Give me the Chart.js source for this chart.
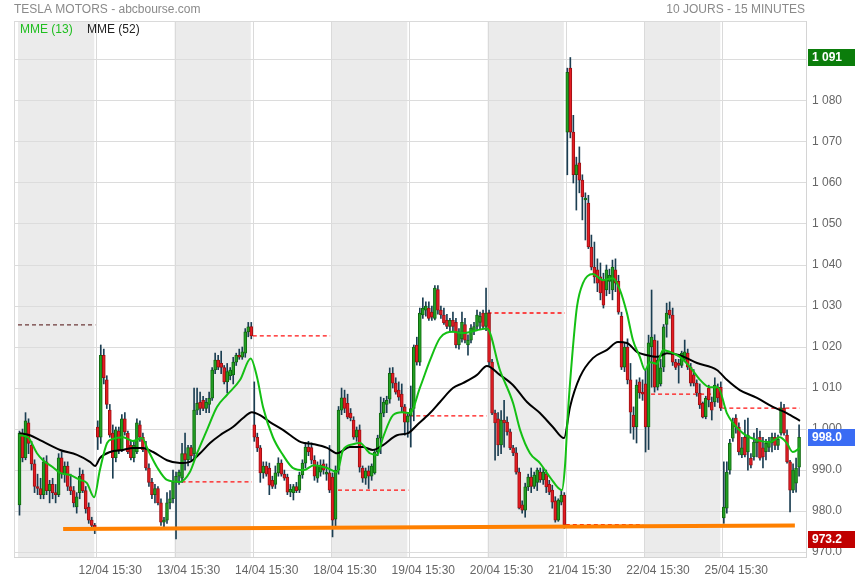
<!DOCTYPE html>
<html>
<head>
<meta charset="utf-8">
<title>TESLA MOTORS - 10 jours</title>
<script src="https://cdn.jsdelivr.net/npm/chart.js@4.4.0/dist/chart.umd.min.js"></script>
<style>
  html, body { margin: 0; padding: 0; background: #fff; }
  #wrap { width: 855px; height: 580px; }
</style>
</head>
<body>
<div id="wrap"><canvas id="chart" width="855" height="580"></canvas></div>
<script>
// Session labels (first session 11/04 has no label)
const dayLabels = ['12/04 15:30', '13/04 15:30', '14/04 15:30', '18/04 15:30', '19/04 15:30',
                   '20/04 15:30', '21/04 15:30', '22/04 15:30', '25/04 15:30'];
const perDay = 26;

// 15 minute candles, [open, high, low, close], one line per session
const ohlc = [
  [981.5,999.5,979,999],[999,1000,992,993],[993,1004,992.5,1002],[1001.5,1002.5,994,996.5],[996,997,990,991.5],[991.5,992.5,984.5,986],[986,989,984,985.5],[985.5,988,983,984],[984,993,983,992],[992,993.5,984,985],[985,987.5,982,986.5],[986.5,988,983,984.5],[984.5,986.5,982,984],[984,994,983.5,993],[993,994.5,988,989],[989,992,987,991],[991,992,985,986],[986,989,984,985],[985,986,981,982],[981,984.5,979.5,983.5],[984.5,990.5,983,988.5],[989,990,984.5,985],[985,986,979.5,980.5],[981,982,977,977.8],[977.8,978.5,975.5,976.5],[976.5,977,974.5,975.8],
  [1000.5,1002,995,998],[998,1020.5,996.5,1018],[1018,1019.5,1011,1012.5],[1012,1013,1005,1006],[1004.6,1006,998,998.5],[999,1001,988,993],[993,1000.5,992,999.8],[999.5,1000.5,994,995],[995,1003.5,994.5,1002.5],[1002.5,1004,998.5,999.3],[999,999.5,994,994.5],[996,997,992.5,993],[993,997,992,996],[994.5,1002.5,994,1001.5],[1001,1002,997,998],[998,999,994.5,995],[995,997,990,990.5],[990.5,991.5,986,987],[987,988,983,984],[984,986.5,982,985.5],[985.5,986,981.5,982],[982,983,976.5,977.3],[977.3,978.5,975.5,977.8],[977.8,984.5,977,982],[982,985,980.5,983],[983,990,982,987.1],
  [987.1,989.5,973.2,988.5],[988.5,990,986.5,989.5],[988,996.5,987,994],[994,999,990,992.5],[992.5,996,991,995.5],[995.5,996,992.5,993.5],[994,1010,993,1004.6],[1004.6,1010,1003.5,1006.3],[1006.5,1009,1003.5,1005],[1007,1008,1004.5,1005],[1005,1007.5,1004,1006.5],[1006,1009,1004,1007.5],[1007.5,1015,1007,1014.4],[1014.4,1018.5,1013.5,1016.8],[1016.8,1018,1014.5,1015.1],[1016,1019,1013.5,1015],[1015,1015.5,1011,1011.5],[1011.5,1016,1008.8,1014],[1013,1015,1012,1014.4],[1013.2,1017.5,1011,1016.3],[1016.3,1018.5,1015.5,1018],[1018,1019.5,1017,1017.5],[1017.5,1020,1017,1018.8],[1018.5,1024.5,1017.5,1023.7],[1023.7,1026,1022.5,1024.9],[1025,1026,1022,1022.7],
  [1001,1011.5,997,998],[998,999,994.5,995.4],[995.4,996,987,989.3],[989.3,992,988,991],[991,992,988.5,989],[990.5,991.7,984,986.3],[987.5,988.5,985.5,986],[986.5,991,985.5,989.3],[989.3,993,988.5,991.7],[991.7,992.5,988.5,989],[989,990,987.5,988],[988.3,989,984,984.6],[984.6,986.5,983.5,985.3],[984.5,986.5,982.7,986],[986,987,984.5,985],[985.1,989.5,984.5,988.8],[988.8,992.5,988,991.7],[991.7,996.6,990.5,995.6],[995.6,997,993.5,994.4],[995.5,996.6,991.5,992.4],[992.4,993.5,987.5,988.5],[988,992,987,991],[989.5,992.5,988.5,991.2],[991.5,992.5,989,990],[989,991.5,987.5,989.5],[989.3,996,984.5,985.1],
  [988.3,989.3,973.7,977.8],[978,991,976,990],[990,1005.5,989,1004.6],[1004.6,1010,1003.5,1007.6],[1007.6,1009.5,1004,1005],[1006.3,1008.5,1002.5,1002.9],[1003.9,1005,1002,1002.7],[1002.2,1003,997.5,998],[998,1000.5,997,999.8],[999.8,1001,989.5,990.7],[990.5,991,987,988],[988,990.5,986.5,989.8],[989.8,991,985.5,988.5],[988.5,991.5,987.5,991],[989.3,995,989,994.4],[994.4,998.5,993.5,997.8],[997.8,1007.8,994,1003.9],[1003.9,1007.5,1003,1006.6],[1006,1008,1004,1007],[1007.3,1014.9,1006.3,1013.6],[1013.6,1015,1010,1011.2],[1011.2,1012.5,1008.5,1009],[1009.5,1011.5,1007,1007.8],[1008.5,1011,1004,1005.4],[1005.4,1006,998.5,1001.7],[1001.7,1004,998,1003.2],
  [1003.2,1010.5,995.6,1005],[1005,1020.5,1002,1020],[1020.5,1022.4,1015.6,1016.3],[1016.3,1029.5,1015.5,1028.3],[1027.8,1032,1027,1029.5],[1029,1031,1027.5,1030],[1029.5,1031,1026.5,1027],[1028.5,1030,1026.5,1027.3],[1027,1035,1026.6,1034.4],[1034,1035,1028,1029],[1029,1030,1027,1027.8],[1027.8,1029.5,1025.5,1025.9],[1026.5,1028,1024.5,1025],[1025,1027,1024,1026.5],[1026.5,1028.5,1023.7,1025],[1026,1027,1019.8,1020.5],[1020.5,1024.5,1019.5,1023.7],[1022,1028.5,1021.2,1026],[1025.5,1027,1021,1021.7],[1020.5,1023,1018,1021.7],[1021.7,1025.5,1021,1024.6],[1024,1026,1023,1025],[1025,1029,1024,1027.8],[1026,1028.5,1024.5,1027.5],[1028.3,1029,1024.5,1025],[1025,1034.4,1024,1028.3],
  [1028.3,1029,1015.5,1016.3],[1016.3,1017,1003.5,1003.9],[1003.9,1004.6,992.4,1001.5],[1002.5,1004,993.5,996.1],[996.1,1004.5,994,1002.2],[1002.2,1007,995.6,1001.5],[1001.7,1003,998.5,999.3],[999.3,1000,995,995.4],[995.4,996,993.5,994.2],[994.2,995.5,989,989.5],[989.5,990.5,980.5,980.7],[981.5,982.5,979.5,980.2],[980.2,986.8,978.5,985.9],[985.9,989,985,988.3],[988.3,990.5,984.5,986],[986,989.5,985.5,988.8],[987,990.5,985,990],[989.5,990.5,987,987.6],[987.6,990.5,986.5,989.5],[989,990,984.5,985.9],[986.5,987.5,984,984.6],[985.1,986.3,980.7,982.2],[982.5,983.5,977.3,977.8],[977.8,983,977.5,982.7],[982.2,985,981.5,983.9],[983.9,984.5,975.8,976.7],
  [1072.4,1088,1062,1087],[1088,1090.6,1071,1072.4],[1072.4,1076.5,1060,1062],[1062,1066.3,1053.4,1064.4],[1064.9,1068.8,1057.6,1060.7],[1060.7,1062,1051,1056.6],[1055.9,1057.6,1046.1,1056.3],[1055.1,1057,1044,1044.4],[1044.4,1047.3,1038.8,1039.5],[1039.5,1045.6,1035.6,1037.1],[1038.8,1041.5,1033.5,1035.6],[1037.1,1040.5,1031.5,1033.2],[1036.3,1038,1029.5,1030.2],[1033.9,1040,1032.5,1038.8],[1036,1039,1033,1037.5],[1033.9,1041.2,1031.5,1039.5],[1038.8,1041.5,1033.5,1035.6],[1036,1037.5,1028,1028.5],[1027.5,1028.5,1014.5,1015.1],[1015.1,1021,1014,1020],[1020,1022,1011,1012],[1012,1016,999,1004.1],[1003.4,1005.4,997.5,1000.5],[1000.5,1012,996.6,1010.7],[1011.5,1012.5,1007.5,1008.8],[1009,1012,1007,1008.5],
  [1011,1014.4,994.4,1000.5],[1000.5,1022.9,995,1021],[1020,1033.9,1010.2,1022.4],[1021.7,1023,1009,1010.2],[1010.2,1021.5,1009.5,1016.8],[1011,1017,1010.5,1014.9],[1015.1,1025.5,1014,1024.9],[1025.5,1030.7,1022.4,1028.3],[1029,1031,1027,1027.8],[1027.8,1029.5,1015.5,1016.3],[1016.3,1017,1014.5,1015],[1016,1017,1011.2,1015.5],[1015.5,1019,1015,1018.5],[1017,1021.7,1016.5,1018.8],[1018.5,1019.5,1014.5,1015.1],[1015.1,1016,1010.5,1011.2],[1013.2,1014.5,1010.5,1011.2],[1011.2,1012,1008,1008.8],[1008.8,1011,1005,1005.9],[1006.3,1006.6,1002.7,1002.9],[1003,1008,1002.5,1007.5],[1010,1010.7,1005.4,1007.1],[1006.6,1007.8,1002.2,1004.6],[1006.6,1012.5,1005.5,1010.7],[1010,1011,1006.5,1007.6],[1010.2,1011.5,1004.5,1005.1],
  [978.3,992,977,981],[980.7,992,979.5,989.5],[990,997.5,989,996.6],[997.8,1002.7,997,1001.7],[1002.7,1003.5,999,1000.5],[1000.5,1001.5,993.7,994.4],[993.7,998,993,995.4],[998,1002.2,993.2,993.7],[994.4,1002.7,990,998.5],[992.9,994,990.5,991.2],[993.2,999,992.4,996.8],[996.6,1000.2,993.2,997.3],[998,999.5,992.4,992.9],[995.4,998,990.5,993.2],[994.5,997.5,992.5,996.5],[995.5,998,994.5,997],[996.6,999,994.4,998],[998,999,995,996],[996,998.5,995,997.5],[999,1006.6,998.5,1005.1],[1005.1,1006,998.5,999],[998.5,999.8,991.7,992],[992,992.4,979.8,985.1],[985.1,991.5,984.5,990],[986.8,992.9,984.6,990.5],[990.7,1001,988.5,998]
];

// previous session close, drawn as a dashed level over each session
const prevClose = [1025.4, 975.8, 987.1, 1022.7, 985.1, 1003.2, 1028.3, 976.7, 1008.5, 1005.1];

// moving averages (candle index, value)
const mme13Idx = [0, 2.8, 5.8, 7.8, 11.1, 13.5, 16.8, 20.1, 22.4, 24.8, 26.7, 29.1, 31.1, 34.4, 37.7, 40.7, 42.7, 45.7, 49.0, 53.3,
  56.6, 59.0, 62.3, 65.6, 68.9, 73.3, 76.8, 78.9, 80.9, 84.2, 87.5, 90.9, 94.5, 97.8, 102.2, 105.5, 107.5, 110.8, 113.1, 116.4,
  118.8, 120.8, 124.1, 127.1, 129.7, 133.1, 136.4, 139.7, 144.0, 147.3, 152.0, 155.3, 159.6, 164.0, 166.3, 169.6, 172.9, 176.2, 180.2, 181.2,
  182.2, 183.6, 185.2, 187.2, 190.5, 193.8, 197.2, 199.5, 201.8, 203.8, 206.1, 207.8, 209.5, 211.8, 213.8, 216.1, 219.4, 222.8, 226.1, 229.4,
  232.0, 235.0, 237.0, 240.3, 245.0, 249.3, 252.6, 254.9, 256.9, 259.3];
const mme13Val = [998.5, 998, 994.1, 992.4, 990.7, 989.3, 988.8, 987.6, 986.8, 983.4, 990, 996.6, 997.6, 998, 997.1, 997.8, 994.9, 990.7, 987.6, 987.1,
  989.5, 994.1, 999.8, 1005.4, 1008.3, 1012, 1017.2, 1012.7, 1005.4, 998, 993.7, 990.5, 990, 991.2, 990.5, 989.5, 994.9, 996.3, 996.6, 994.1,
  993.7, 998, 1003.4, 1004.1, 1003.9, 1010.2, 1016.8, 1022.2, 1023.7, 1023.4, 1024.1, 1024.5, 1014.4, 1006.3, 999.8, 994.1, 991.7, 988.3, 985.1, 990.7,
  1003.9, 1017.6, 1029.8, 1035.6, 1037.8, 1036.3, 1036.8, 1033.9, 1028.3, 1021.7, 1017.6, 1014.4, 1016.3, 1015.9, 1019.3, 1018.8, 1017.6, 1015.1, 1012, 1010.2,
  1010.2, 1003.9, 1001.5, 999, 997.3, 996.8, 998, 996.6, 994.4, 995.4];

const mme52Idx = [0, 3.5, 6.8, 13.5, 19.1, 23.4, 25.1, 26.7, 30.1, 34.4, 37.7, 41.0, 44.4, 49.0, 53.3, 56.6, 60.0, 63.3, 66.6, 70.9,
  74.3, 77.2, 79.9, 83.2, 87.5, 93.5, 97.8, 102.2, 105.5, 109.8, 114.1, 117.4, 120.8, 125.4, 129.1, 132.1, 136.4, 139.7, 144.0, 147.3,
  152.0, 155.3, 159.6, 164.0, 168.6, 172.9, 177.2, 180.9, 182.9, 186.2, 190.5, 195.2, 198.8, 201.8, 205.1, 208.5, 211.8, 215.1, 219.4, 225.1,
  231.7, 235.0, 239.3, 245.0, 250.3, 254.9, 259.3];
const mme52Val = [999.0, 998.5, 997.3, 994.9, 993.7, 992.0, 991.0, 992.9, 994.4, 994.9, 995.4, 995.4, 994.4, 992.4, 991.7, 992.0, 994.1, 996.6, 998.5, 1000.5,
  1002.7, 1004.1, 1003.4, 1001.7, 999.8, 996.8, 996.3, 995.4, 994.1, 995.6, 995.6, 994.9, 996.1, 998.5, 999.0, 1001.0, 1003.9, 1006.6, 1010.0, 1011.2,
  1013.2, 1015.4, 1013.2, 1010.7, 1006.6, 1003.9, 1000.5, 997.8, 1005.4, 1012.7, 1017.3, 1019.3, 1021.2, 1021.0, 1018.8, 1018.0, 1017.6, 1018.5, 1018.0, 1016.1,
  1014.4, 1012.0, 1009.5, 1007.6, 1005.4, 1003.9, 1002.0];

// support line drawn on the chart
const supportIdx = [14.5, 257.6];
const supportVal = [975.6, 976.5];

const yTicks = [970, 980, 990, 1000, 1010, 1020, 1030, 1040, 1050, 1060, 1070, 1080, 1090];

const FONT = '"Liberation Sans", Arial, sans-serif';
const UP = '#23a023', UP_EDGE = '#0f6a0f';
const DOWN = '#e41c22', DOWN_EDGE = '#9e1014';
const WICK = '#1b3e52';

function fmt(v) {
  if (v < 1000) return v.toFixed(1);
  const s = String(Math.round(v));
  return s.slice(0, -3) + ' ' + s.slice(-3);
}

const isUp = i => ohlc[i][3] >= ohlc[i][0];

const dashPoints = [];
prevClose.forEach((v, d) => {
  dashPoints.push({x: d * perDay - 0.5, y: v}, {x: d * perDay + 25.2, y: v}, {x: d * perDay + 25.3, y: null});
});

const backdrop = {
  id: 'backdrop',
  beforeDraw(chart) {
    const {ctx, chartArea: a, scales: {x}} = chart;
    ctx.save();
    ctx.fillStyle = '#fff';
    ctx.fillRect(0, 0, chart.width, chart.height);
    // shaded sessions
    ctx.fillStyle = '#ebebeb';
    for (let d = 0; d < prevClose.length; d += 2) {
      const x0 = x.getPixelForValue(d * perDay - 0.5);
      const x1 = x.getPixelForValue(d * perDay + perDay - 0.5);
      ctx.fillRect(x0, a.top, x1 - x0 - 2, a.bottom - a.top);
    }
    // session separators
    ctx.strokeStyle = '#dadada';
    ctx.lineWidth = 1;
    ctx.beginPath();
    for (let d = 1; d < prevClose.length; d++) {
      const px = Math.round(x.getPixelForValue(d * perDay - 0.5)) + 0.5;
      ctx.moveTo(px, a.top);
      ctx.lineTo(px, a.bottom);
    }
    ctx.stroke();
    ctx.strokeRect(Math.round(a.left) + 0.5, Math.round(a.top) + 0.5, a.right - a.left, a.bottom - a.top);
    ctx.restore();
  }
};

const overlay = {
  id: 'overlay',
  afterDraw(chart) {
    const {ctx, chartArea: a, scales: {y}} = chart;
    ctx.save();
    ctx.font = '12px ' + FONT;
    ctx.textBaseline = 'alphabetic';
    ctx.fillStyle = '#8a8a8a';
    ctx.textAlign = 'left';
    ctx.fillText('TESLA MOTORS - abcbourse.com', 14, 13);
    ctx.textAlign = 'right';
    ctx.fillText('10 JOURS - 15 MINUTES', 805, 13);
    ctx.textAlign = 'left';
    ctx.fillStyle = '#1fbf1f';
    ctx.fillText('MME (13)', 20, 33);
    ctx.fillStyle = '#222';
    ctx.fillText('MME (52)', 87, 33);

    // value flags on the price axis
    const highs = ohlc.map(c => c[1]);
    const lows = ohlc.map(c => c[2]);
    const flags = [
      [Math.max(...highs), '#0b7d0b'],
      [ohlc[ohlc.length - 1][3], '#3a6cf4'],
      [Math.min(...lows), '#c00000']
    ];
    ctx.font = 'bold 12px ' + FONT;
    ctx.textBaseline = 'middle';
    flags.forEach(([v, col]) => {
      const py = Math.round(y.getPixelForValue(v));
      ctx.fillStyle = col;
      ctx.fillRect(a.right + 2, py - 8, chart.width - a.right - 2, 17);
      ctx.fillStyle = '#fff';
      ctx.fillText(fmt(v), a.right + 6, py + 1);
    });
    ctx.restore();
  }
};

new Chart(document.getElementById('chart'), {
  type: 'bar',
  data: {
    datasets: [
      {
        type: 'line',
        data: dashPoints,
        order: 6,
        borderWidth: 1.3,
        borderDash: [4, 3],
        pointRadius: 0,
        spanGaps: false,
        segment: {
          borderColor: c => c.p0DataIndex < 3 ? '#6e3a3a' : '#ff1010'
        }
      },
      {
        data: ohlc.map((c, i) => ({x: i, y: [c[2], c[1]]})),
        order: 5,
        grouped: false,
        barThickness: 1,
        backgroundColor: WICK
      },
      {
        data: ohlc.map((c, i) => ({x: i, y: [c[0], c[3]]})),
        order: 4,
        grouped: false,
        barThickness: 3,
        minBarLength: 1,
        borderWidth: 1,
        borderSkipped: false,
        backgroundColor: c => isUp(c.dataIndex) ? UP : DOWN,
        borderColor: c => isUp(c.dataIndex) ? UP_EDGE : DOWN_EDGE
      },
      {
        type: 'line',
        label: 'MME (52)',
        data: mme52Idx.map((x, i) => ({x, y: mme52Val[i]})),
        order: 3,
        borderColor: '#000',
        borderWidth: 2,
        pointRadius: 0,
        cubicInterpolationMode: 'monotone'
      },
      {
        type: 'line',
        label: 'MME (13)',
        data: mme13Idx.map((x, i) => ({x, y: mme13Val[i]})),
        order: 2,
        borderColor: '#14c014',
        borderWidth: 2,
        pointRadius: 0,
        cubicInterpolationMode: 'monotone'
      },
      {
        type: 'line',
        data: supportIdx.map((x, i) => ({x, y: supportVal[i]})),
        order: 1,
        borderColor: '#ff8000',
        borderWidth: 4,
        borderCapStyle: 'butt',
        pointRadius: 0
      }
    ]
  },
  options: {
    responsive: false,
    devicePixelRatio: 1,
    animation: false,
    events: [],
    layout: { padding: { left: 14, top: 21, right: 0, bottom: 0 } },
    plugins: {
      legend: { display: false },
      tooltip: { enabled: false }
    },
    scales: {
      x: {
        type: 'linear',
        position: 'bottom',
        min: -1.83,
        max: 261.3,
        offset: false,
        grid: { display: false, drawTicks: false },
        border: { display: true, color: '#d4d4d4' },
        afterBuildTicks: s => { s.ticks = dayLabels.map((_, k) => ({value: (k + 1) * perDay + 4.15})); },
        afterFit: s => { s.height = 23; },
        ticks: {
          autoSkip: false,
          maxRotation: 0,
          padding: 6,
          color: '#666',
          font: { family: FONT, size: 12 },
          callback: (v, i) => dayLabels[i]
        }
      },
      y: {
        position: 'right',
        min: 968.8,
        max: 1099.5,
        grid: { color: '#dcdcdc', drawTicks: false },
        border: { display: true, color: '#d4d4d4' },
        afterBuildTicks: s => { s.ticks = yTicks.map(v => ({value: v})); },
        afterFit: s => { s.width = 49; },
        ticks: {
          padding: 6,
          color: '#666',
          font: { family: FONT, size: 12 },
          callback: v => fmt(v)
        }
      }
    }
  },
  plugins: [backdrop, overlay]
});
</script>
</body>
</html>
